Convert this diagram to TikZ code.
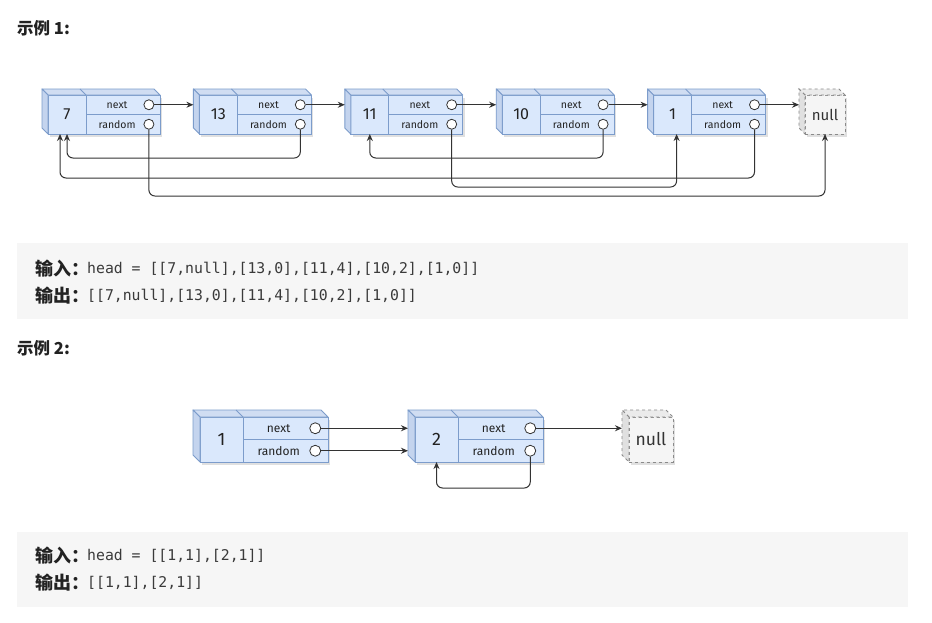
\documentclass[tikz,border=0pt]{standalone}
\usepackage{fontspec}
\usetikzlibrary{arrows.meta,calc}
\newfontfamily\cjk{Noto Sans CJK SC}
\newfontfamily\nodefont{Fira Sans}
\newfontfamily\codefont{DejaVu Sans Mono}
\definecolor{nfill}{HTML}{DAE8FC}
\definecolor{ntop}{HTML}{D0DDF2}
\definecolor{nside}{HTML}{C4D4EE}
\definecolor{nline}{HTML}{7C9CCB}
\definecolor{zfill}{HTML}{F5F5F5}
\definecolor{ztop}{HTML}{EBEBEB}
\definecolor{zside}{HTML}{E0E0E0}
\definecolor{zline}{HTML}{8A8A8A}
\definecolor{arrc}{HTML}{333333}
\definecolor{codebg}{HTML}{F6F6F6}
\definecolor{codetxt}{HTML}{3A3A3A}
\definecolor{ttl}{HTML}{222222}
\tikzset{
  cellv/.style={draw=nline, fill=nfill, line width=0.9pt, outer sep=0pt, inner sep=0pt, text=ttl},
  cellf/.style={draw=nline, fill=nfill, line width=0.9pt, outer sep=0pt, inner sep=0pt},
  topface/.style={draw=nline, fill=ntop, line width=0.9pt, line join=round},
  sideface/.style={draw=nline, fill=nside, line width=0.9pt, line join=round},
  nullcell/.style={draw=zline, fill=zfill, dashed, line width=0.9pt, outer sep=0pt, inner sep=0pt, text=arrc},
  nulltop/.style={draw=zline, fill=ztop, dashed, line width=0.9pt},
  nullside/.style={draw=zline, fill=zside, dashed, line width=0.9pt},
  shadowc/.style={fill=black, opacity=0.12},
  val1/.style={font=\nodefont\fontsize{16}{18}\selectfont},
  val2/.style={font=\nodefont\fontsize{18}{20}\selectfont},
  lbl1/.style={inner sep=0pt, text=ttl, font=\nodefont\fontsize{10.5}{12}\selectfont},
  lbl2/.style={inner sep=0pt, text=ttl, font=\nodefont\fontsize{12}{14}\selectfont},
  port1/.style={circle, draw=arrc, fill=white, line width=0.8pt, minimum size=10pt, inner sep=0pt},
  port2/.style={circle, draw=arrc, fill=white, line width=0.8pt, minimum size=11pt, inner sep=0pt},
  null1/.style={font=\nodefont\fontsize{15}{17}\selectfont},
  null2/.style={font=\nodefont\fontsize{17.5}{20}\selectfont},
  arr/.style={draw=arrc, line width=1pt, -{Stealth[length=7pt,width=6pt]}},
  rarr/.style={arr, rounded corners=6pt},
  titlefont/.style={inner sep=0pt, text=ttl, font=\cjk\bfseries\fontsize{16.5}{19}\selectfont},
  cjklbl/.style={inner sep=0pt, text=ttl, font=\cjk\bfseries\fontsize{18}{20}\selectfont},
  codeline/.style={inner sep=0pt, text=codetxt, font=\codefont\fontsize{14.8}{17}\selectfont},
}
% #1 name, #2 x, #3 y, #4 W, #5 H, #6 value width, #7 depth, #8 value, #9 size set
\newcommand\LNode[9]{%
  \fill[shadowc] ({#2+2},{#3+3}) rectangle ({#2+#4+2},{#3+#5+3});
  \node[cellv, val#9, minimum width=#6, minimum height=#5, anchor=north west] (#1v) at (#2,#3) {#8};
  \node[cellf, minimum width={#4-#6}, minimum height={#5/2}, anchor=north west] (#1nx) at (#1v.north east) {};
  \node[cellf, minimum width={#4-#6}, minimum height={#5/2}, anchor=north west] (#1rd) at (#1nx.south west) {};
  \filldraw[topface] (#1v.north west) -- ++(-#7,-#7) -- ($(#1nx.north east)+(-#7,-#7)$) -- (#1nx.north east) -- cycle;
  \draw[draw=nline, line width=0.9pt] (#1v.north east) -- ++(-#7,-#7);
  \filldraw[sideface] (#1v.north west) -- ++(-#7,-#7) -- ($(#1v.south west)+(-#7,-#7)$) -- (#1v.south west) -- cycle;
  \node[lbl#9] (#1nt) at ($(#1nx.west)!0.42!(#1nx.east)$) {next};
  \node[lbl#9] (#1rt) at ($(#1rd.west)!0.42!(#1rd.east)$) {random};
  \node[port#9] (#1n) at ($(#1nx.east)!0.15!(#1nx.west)$) {};
  \node[port#9] (#1r) at ($(#1rd.east)!0.15!(#1rd.west)$) {};
  \coordinate (#1L) at ($(#1v.west)+(-#7,0)$);
}
% #1 name, #2 x, #3 y, #4 W, #5 H, #6 depth, #7 size set
\newcommand\NullBox[7]{%
  \fill[shadowc] ({#2+2},{#3+3}) rectangle ({#2+#4+2},{#3+#5+3});
  \node[nullcell, null#7, minimum width=#4, minimum height=#5, anchor=north west] (#1v) at (#2,#3) {null};
  \filldraw[nulltop] (#1v.north west) -- ++(-#6,-#6) -- ($(#1v.north east)+(-#6,-#6)$) -- (#1v.north east) -- cycle;
  \filldraw[nullside] (#1v.north west) -- ++(-#6,-#6) -- ($(#1v.south west)+(-#6,-#6)$) -- (#1v.south west) -- cycle;
  \coordinate (#1L) at ($(#1v.west)+(-#6,0)$);
}
\begin{document}
\begin{tikzpicture}[x=1pt,y=-1pt]
\fill[white] (0,0) rectangle (932,622);
\useasboundingbox (0,0) rectangle (932,622);

% ---------- Example 1 ----------
\node[titlefont, anchor=west] (t1) at (17,28) {示例 1:};

\LNode{n7}{48}{95}{112}{39}{38}{6}{7}{1}
\LNode{n13}{199.4}{95}{112}{39}{38}{6}{13}{1}
\LNode{n11}{350.8}{95}{112}{39}{38}{6}{11}{1}
\LNode{n10}{502.2}{95}{112}{39}{38}{6}{10}{1}
\LNode{n1}{653.6}{95}{112}{39}{38}{6}{1}{1}
\NullBox{z1}{805}{95}{40}{39}{6}{1}

\draw[arr] (n7n.east) -- (n7n.east -| n13L);
\draw[arr] (n13n.east) -- (n13n.east -| n11L);
\draw[arr] (n11n.east) -- (n11n.east -| n10L);
\draw[arr] (n10n.east) -- (n10n.east -| n1L);
\draw[arr] (n1n.east) -- (n1n.east -| z1L);

\draw[rarr] (n7r.south) |- ($(z1v.south)+(0,62)$) -- (z1v.south);
\draw[rarr] (n13r.south) |- ($(n7v.south)+(0,24)$) -- (n7v.south);
\draw[rarr] (n11r.south) |- ($(n1v.south)+(4,53)$) -- ($(n1v.south)+(4,0)$);
\draw[rarr] (n10r.south) |- ($(n11v.south)+(0,24)$) -- (n11v.south);
\draw[rarr] (n1r.south) |- ($(n7v.south)+(-7,44)$) -- ($(n7v.south)+(-7,0)$);

\fill[codebg] (17,243) rectangle (908,319);
\node[cjklbl, anchor=west] (in1) at (35,269) {输入：};
\node[codeline, anchor=west] (c1) at (87,269) {head = [[7,null],[13,0],[11,4],[10,2],[1,0]]};
\node[cjklbl, anchor=west] (out1) at (35,296) {输出：};
\node[codeline, anchor=west] (c2) at (87,296) {[[7,null],[13,0],[11,4],[10,2],[1,0]]};

% ---------- Example 2 ----------
\node[titlefont, anchor=west] (t2) at (17,348) {示例 2:};

\LNode{m1}{200}{417}{128}{45}{43}{7}{1}{2}
\LNode{m2}{415}{417}{128}{45}{43}{7}{2}{2}
\NullBox{z2}{629}{417}{44}{45}{7}{2}

\draw[arr] (m1n.east) -- (m1n.east -| m2L);
\draw[arr] (m1r.east) -- (m1r.east -| m2L);
\draw[arr] (m2n.east) -- (m2n.east -| z2L);
\draw[rarr] (m2r.south) |- ($(m2v.south)+(0,26)$) -- (m2v.south);

\fill[codebg] (17,532) rectangle (908,607);
\node[cjklbl, anchor=west] (in2) at (35,556) {输入：};
\node[codeline, anchor=west] (c3) at (87,556) {head = [[1,1],[2,1]]};
\node[cjklbl, anchor=west] (out2) at (35,583) {输出：};
\node[codeline, anchor=west] (c4) at (87,583) {[[1,1],[2,1]]};
\end{tikzpicture}
\end{document}
